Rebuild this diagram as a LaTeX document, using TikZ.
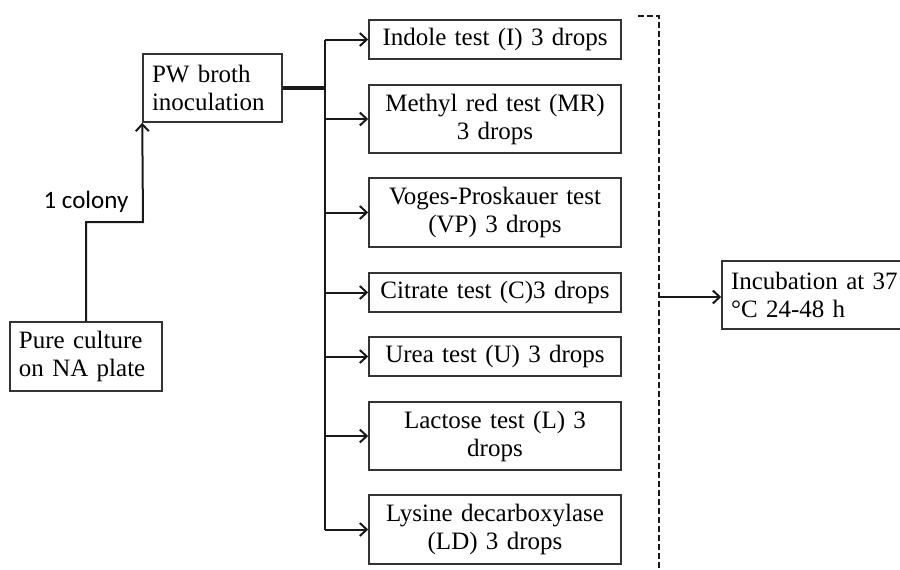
\documentclass[tikz,border=0pt]{standalone}
\usepackage{fontspec}
\setmainfont{Liberation Serif}
\newfontfamily\labelfont{Carlito}
\usetikzlibrary{arrows.meta}
\begin{document}
\begin{tikzpicture}[x=1pt,y=-1pt,
  box/.style={draw=black!80, line width=1.5pt, inner sep=0pt, font=\fontsize{25}{28}\selectfont},
  tbox/.style={box, minimum width=252pt, text width=244pt, align=center},
  lbox/.style={box, align=left},
  conn/.style={line width=2pt, black!90},
  arr/.style={conn, -{Straight Barb[length=7pt,width=13pt,line width=2pt]}}
]
\clip (0,0) rectangle (900,570);
\useasboundingbox (0,0) rectangle (900,570);

\node[lbox, minimum width=152pt, minimum height=69pt, text width=134pt] (pure) at (86,356.5) {Pure culture\\on NA plate};
\node[lbox, minimum width=139pt, minimum height=68pt, text width=121pt] (pw) at (212.5,88) {PW broth\\inoculation};

\node[tbox, minimum height=39pt] (ind) at (495,39.5) {Indole test (I) 3 drops};
\node[tbox, minimum height=68pt] (mr) at (495,119) {Methyl red test (MR)\\3 drops};
\node[tbox, minimum height=69pt] (vp) at (495,212.5) {Voges-Proskauer test\\(VP) 3 drops};
\node[tbox, minimum height=39pt] (cit) at (495,292.5) {Citrate test (C)3 drops};
\node[tbox, minimum height=39pt] (ure) at (495,356.5) {Urea test (U) 3 drops};
\node[tbox, minimum height=68pt] (lac) at (495,436) {Lactose test (L) 3\\drops};
\node[tbox, minimum height=69pt] (lys) at (495,529.5) {Lysine decarboxylase\\(LD) 3 drops};

\node[lbox, minimum width=190pt, minimum height=68pt, text width=172pt] (inc) at (817,295) {Incubation at 37\\°C 24-48 h};

\node[font=\labelfont\fontsize{25}{28}\selectfont, inner sep=0pt] (col) at (86,202) {1 colony};

\coordinate (k) at (143,222);
\coordinate (bus) at (325,0);
\coordinate (brk) at (659,0);
\coordinate (brtop) at (638,16);
\coordinate (brbot) at (659,580);

\draw[arr] (pure.north) |- (k) -- (pw.south west);
\draw[conn, line width=3.2pt] (pw.east) -- (bus |- pw.east);
\draw[conn] (bus |- ind.west) -- (bus |- lys.west);
\foreach \n in {ind,mr,vp,cit,ure,lac,lys}
  \draw[arr] (bus |- \n.west) -- (\n.west);

\draw[conn, dash pattern=on 6pt off 3pt] (brtop) -- (brk |- brtop) -- (brbot);
\draw[arr] (659,297) -- (inc.west |- 0,297);
\end{tikzpicture}
\end{document}
